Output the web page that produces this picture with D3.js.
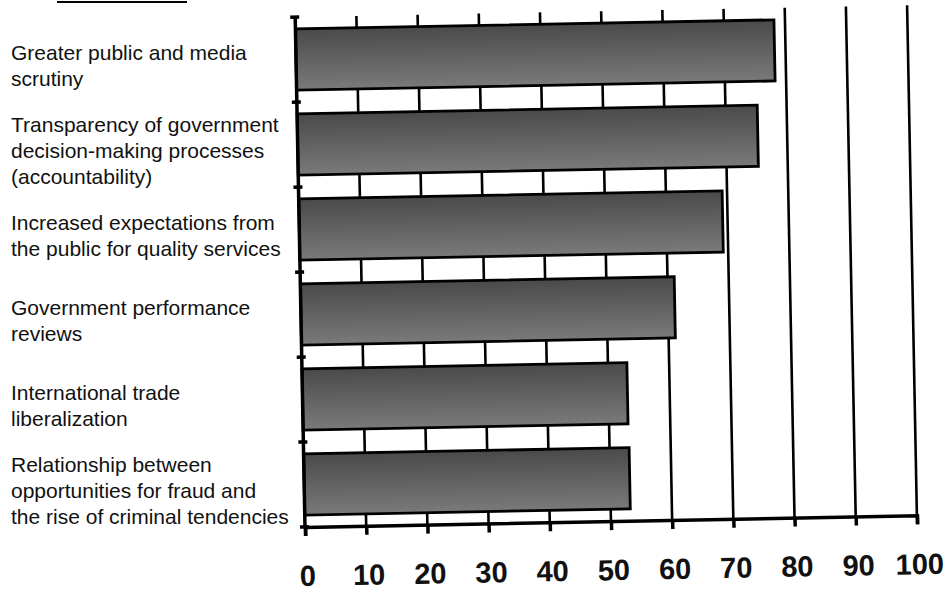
<!DOCTYPE html>
<html>
<head>
<meta charset="utf-8">
<script src="https://cdn.jsdelivr.net/npm/d3@7"></script>
<style>
  body { margin: 0; background: #fff; }
  svg { display: block; }
  .cat { font-family: "Liberation Sans", Arial, sans-serif; font-size: 21px; fill: #111; }
  .tick-label { font-family: "Liberation Sans", Arial, sans-serif; font-size: 29px; font-weight: bold; fill: #111; }
</style>
</head>
<body>
<svg width="952" height="592"></svg>
<script>
// categories (one entry per line of the label) and values
var categories = [
    ["Greater public and media", "scrutiny"],
    ["Transparency of government", "decision-making processes", "(accountability)"],
    ["Increased expectations from", "the public for quality services"],
    ["Government performance", "reviews"],
    ["International trade", "liberalization"],
    ["Relationship between", "opportunities for fraud and", "the rise of criminal tendencies"]
];
var values = [78.2, 75.2, 69.2, 61.1, 53.1, 53.2];
var tickLabels = [0, 10, 20, 30, 40, 50, 60, 70, 80, 90, 100];

var svg = d3.select("svg"),
    plotW = 612,
    plotH = 510,
    originX = 305,
    originY = 527;

// the scan is tilted a little, so the plot sits in a rotated group
var g = svg.append("g")
    .attr("transform", "translate(" + originX + "," + originY + ") rotate(-1.1)");

var names = categories.map(function (d) { return d.join(" "); });

var x = d3.scaleLinear().domain([0, 100]).range([0, plotW]);
var y = d3.scaleBand().domain(names).range([-plotH, 0])
    .paddingInner(0.28).paddingOuter(0.14);

var grad = svg.append("defs").append("linearGradient")
    .attr("id", "barfill").attr("x1", 0).attr("x2", 0).attr("y1", 0).attr("y2", 1);
grad.append("stop").attr("offset", "0%").attr("stop-color", "#4a4a4a");
grad.append("stop").attr("offset", "100%").attr("stop-color", "#7a7a7a");

// grid lines
g.selectAll(".grid")
    .data(tickLabels.slice(1))
    .enter().append("line")
    .attr("class", "grid")
    .attr("x1", function (d) { return x(d); })
    .attr("x2", function (d) { return x(d); })
    .attr("y1", -plotH)
    .attr("y2", 0)
    .attr("stroke", "#000")
    .attr("stroke-width", 2.6);

// bars
g.selectAll(".bar")
    .data(values)
    .enter().append("rect")
    .attr("class", "bar")
    .attr("x", x(0))
    .attr("y", function (d, i) { return y(names[i]); })
    .attr("width", function (d) { return x(d) - x(0); })
    .attr("height", y.bandwidth())
    .attr("fill", "url(#barfill)")
    .attr("stroke", "#000")
    .attr("stroke-width", 2.8);

// left axis with small ticks between categories
var yTicks = names.map(function (n) { return y(n) - y.step() * y.paddingInner() / 2; });
yTicks.push(0);
g.append("line")
    .attr("x1", 0).attr("x2", 0).attr("y1", -plotH).attr("y2", 0)
    .attr("stroke", "#000").attr("stroke-width", 3.5);
g.selectAll(".ytick")
    .data(yTicks)
    .enter().append("line")
    .attr("class", "ytick")
    .attr("x1", -5).attr("x2", 4)
    .attr("y1", function (d) { return d; })
    .attr("y2", function (d) { return d; })
    .attr("stroke", "#000").attr("stroke-width", 3.5);

// bottom axis
var xAxis = g.append("g")
    .call(d3.axisBottom(x).tickValues(tickLabels).tickSize(9).tickFormat(""));
xAxis.select(".domain").attr("stroke", "#000").attr("stroke-width", 3.5);
xAxis.selectAll(".tick line").attr("stroke", "#000").attr("stroke-width", 3.5);

g.selectAll(".tick-label")
    .data(tickLabels)
    .enter().append("text")
    .attr("class", "tick-label")
    .attr("x", function (d) { return x(d) + 2; })
    .attr("y", 59)
    .attr("text-anchor", "middle")
    .text(function (d) { return d; });

// category labels stay level (the scan's text is nearly horizontal)
var lineH = 26;
var lg = svg.append("g").attr("transform", "translate(0," + (originY + 3) + ")");
var lab = lg.selectAll(".cat")
    .data(categories)
    .enter().append("text")
    .attr("class", "cat")
    .attr("x", 11)
    .attr("y", function (d, i) {
        return y(names[i]) + y.bandwidth() / 2 + 10 - (d.length - 1) * lineH / 2;
    });
lab.selectAll("tspan")
    .data(function (d) { return d; })
    .enter().append("tspan")
    .attr("x", 11)
    .attr("dy", function (d, i) { return i === 0 ? 0 : lineH; })
    .text(function (d) { return d; });

// leftover underline from the cut-off heading at the top of the scan
svg.append("line")
    .attr("x1", 57).attr("x2", 187).attr("y1", 2).attr("y2", 2)
    .attr("stroke", "#000").attr("stroke-width", 2);
</script>
</body>
</html>
